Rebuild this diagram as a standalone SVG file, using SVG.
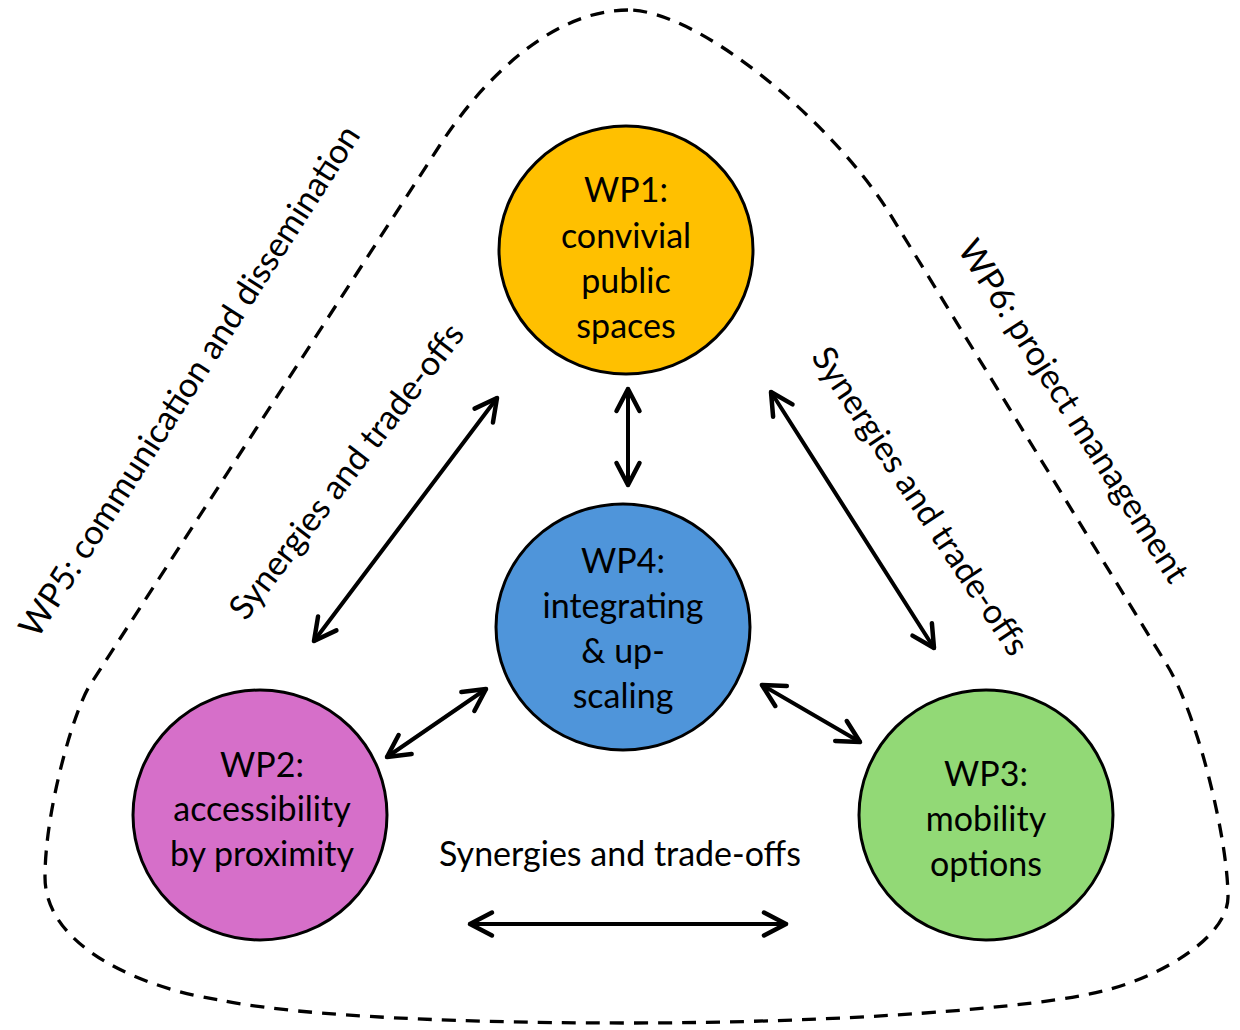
<svg xmlns="http://www.w3.org/2000/svg" width="1240" height="1030" viewBox="0 0 1240 1030">
<style>
text{font-family:"Lato","Liberation Sans",sans-serif;font-size:34px;fill:#000;text-anchor:middle}
.node{stroke:#000;stroke-width:3}
.conn{stroke:#000;stroke-width:4;fill:none;stroke-linecap:round;marker-start:url(#ah);marker-end:url(#ah)}
.lbl{dominant-baseline:central}
</style>
<defs>
<marker id="ah" markerUnits="userSpaceOnUse" viewBox="-30 -16 34 32" refX="0" refY="0" markerWidth="34" markerHeight="32" orient="auto-start-reverse">
<path d="M -22,-11.5 L 0,0 L -22,11.5" fill="none" stroke="#000" stroke-width="4.5" stroke-linecap="round" stroke-linejoin="round"/>
</marker>
</defs>
<rect width="1240" height="1030" fill="#fff"/>
<g id="boundary">
<path d="M 628,10 C 555,10 485.5,75 440,145 L 90,685 C 74,710 45,810 45,877 C 45,950 150,990 220,1000 C 280,1013 420,1023 628,1023 C 840,1023 1040,1008 1107,990 C 1167,974 1228,935 1228,897 C 1228,840 1198,715 1167,665 L 890,214 C 834,124 700,10 628,10 Z" fill="none" stroke="#000" stroke-width="3.3" stroke-dasharray="14,10"/>
</g>
<g id="connectors">
<line class="conn" x1="628" y1="389" x2="628" y2="485"/>
<line class="conn" x1="470" y1="924" x2="786" y2="924"/>
<line class="conn" x1="497" y1="398" x2="314" y2="641"/>
<line class="conn" x1="771" y1="392" x2="934" y2="648"/>
<line class="conn" x1="486" y1="689" x2="387" y2="757"/>
<line class="conn" x1="762" y1="685" x2="860" y2="742"/>
</g>
<g id="wp1">
<ellipse class="node" cx="626" cy="250" rx="127" ry="124" fill="#FFC000"/>
<text x="626" y="202">WP1:</text>
<text x="626" y="248">convivial</text>
<text x="626" y="293">public</text>
<text x="626" y="338">spaces</text>
</g>
<g id="wp4">
<ellipse class="node" cx="623" cy="627" rx="127" ry="123" fill="#4F95DA"/>
<text x="623" y="573">WP4:</text>
<text x="623" y="618">integrating</text>
<text x="623" y="663">&amp; up-</text>
<text x="623" y="708">scaling</text>
</g>
<g id="wp2">
<ellipse class="node" cx="260" cy="815" rx="127" ry="125" fill="#D66FC9"/>
<text x="262" y="777">WP2:</text>
<text x="262" y="821">accessibility</text>
<text x="262" y="866">by proximity</text>
</g>
<g id="wp3">
<ellipse class="node" cx="986" cy="815" rx="127" ry="125" fill="#92D976"/>
<text x="986" y="786">WP3:</text>
<text x="986" y="831">mobility</text>
<text x="986" y="876">options</text>
</g>
<g id="labels">
<text class="lbl" x="620" y="852">Synergies and trade-offs</text>
<text class="lbl" transform="translate(345,470) rotate(-52.6)">Synergies and trade-offs</text>
<text class="lbl" transform="translate(922,500) rotate(56.4)">Synergies and trade-offs</text>
<text class="lbl" transform="translate(188,380) rotate(-57.3)">WP5: communication and dissemination</text>
<text class="lbl" transform="translate(1075,410) rotate(57.6)">WP6: project management</text>
</g>
</svg>
